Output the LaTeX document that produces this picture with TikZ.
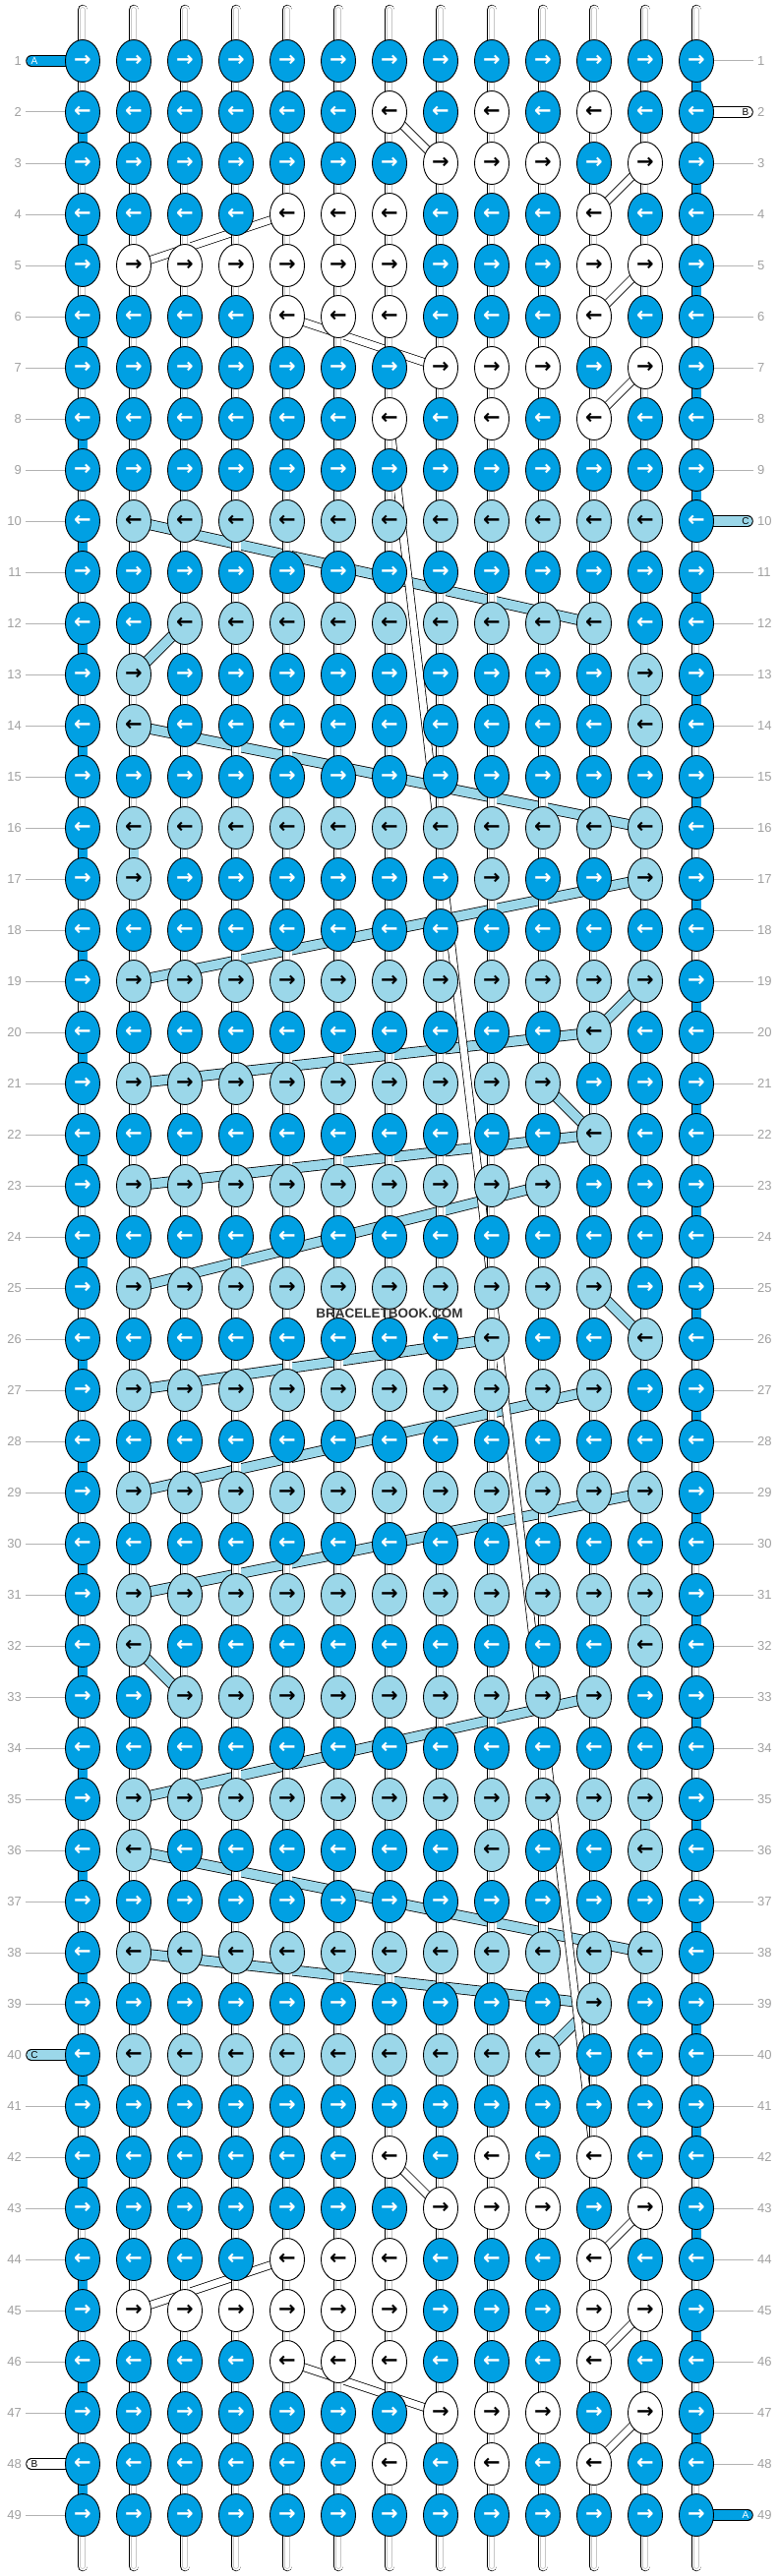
\documentclass[tikz,border=0pt]{standalone}
\usepackage{fontspec}
\setmainfont{Liberation Sans}
\newfontfamily\arrowfont{DejaVu Sans}
\usetikzlibrary{shapes.geometric}
\definecolor{bbblue}{RGB}{0,160,227}
\definecolor{bblight}{RGB}{155,215,233}
\definecolor{numgray}{RGB}{160,160,160}
\pgfdeclarelayer{bg}
\pgfsetlayers{bg,main}
\tikzset{
  knot/.style={ellipse,draw=black,line width=0.9pt,minimum width=35pt,minimum height=43pt,
    inner sep=0pt,font=\arrowfont\bfseries\fontsize{21}{21}\selectfont},
  pipe/.style={line width=10.5pt,draw=black,postaction={draw=white,line width=9pt},
    postaction={draw=black!22,line width=5.6pt},postaction={draw=white,line width=4pt}},
  wrap/.style={line width=10.5pt,draw=black,postaction={draw=#1,line width=9pt}},
  bar/.style={line width=11.5pt,draw=black,postaction={draw=bbblue,line width=9.8pt}},
  cstrand/.style={line width=11pt,draw=black,postaction={draw=bblight,line width=9.4pt}},
  bstrand/.style={line width=8.5pt,draw=black,postaction={draw=white,line width=7pt}},
  endpipe/.style={line width=11.5pt,draw=black,line cap=round,postaction={draw=#1,line width=9.8pt}},
  endlab/.style={inner sep=0pt,font=\fontsize{10}{10}\selectfont},
  rownum/.style={inner sep=0pt,text=numgray,font=\fontsize{13}{13}\selectfont},
  rowline/.style={draw=numgray!80,line width=1pt},
  wmark/.style={inner sep=0pt,text=black!80,font=\bfseries\fontsize{13.5}{13.5}\selectfont}
}
\begin{document}
\begin{tikzpicture}[x=1pt,y=-1pt]
\useasboundingbox (0,0) rectangle (792,2620);
% knot colours that are not blue
\foreach \r/\cs in {2/{7,9,11},3/{8,9,10,12},4/{5,6,7,11},5/{2,...,7,11,12},6/{5,6,7,11},
    7/{8,9,10,12},8/{7,9,11},42/{7,9,11},43/{8,9,10,12},44/{5,6,7,11},45/{2,...,7,11,12},
    46/{5,6,7,11},47/{8,9,10,12},48/{7,9,11}}{
  \foreach \c in \cs {\expandafter\xdef\csname kf-\r-\c\endcsname{white}}}
\foreach \r/\cs in {10/{2,...,12},12/{3,...,11},13/{2,12},14/{2,12},16/{2,...,12},17/{2,9,12},
    19/{2,...,12},20/{11},21/{2,...,10},22/{11},23/{2,...,10},25/{2,...,11},26/{9,12},
    27/{2,...,11},29/{2,...,12},31/{2,...,12},32/{2,12},33/{3,...,11},35/{2,...,12},
    36/{2,9,12},38/{2,...,12},39/{11},40/{2,...,10}}{
  \foreach \c in \cs {\expandafter\xdef\csname kf-\r-\c\endcsname{bblight}}}
% vertical links that are coloured
\foreach \r in {1,...,48}{%
  \ifodd\r \expandafter\xdef\csname vc-\r-13\endcsname{bbblue}%
  \else \expandafter\xdef\csname vc-\r-1\endcsname{bbblue}\fi}
\foreach \r/\c in {13/12,16/2,31/12,35/12}{%
  \expandafter\xdef\csname vc-\r-\c\endcsname{bblight}}

% knots
\foreach \r in {1,...,49}
  \foreach \c in {1,...,13}{
    \def\kf{bbblue}\def\kt{white}
    \ifcsname kf-\r-\c\endcsname
      \edef\kf{\csname kf-\r-\c\endcsname}\def\kt{black}
    \fi
    \ifodd\r \def\arr{→}\else \def\arr{←}\fi
    \node[knot,fill=\kf,text=\kt] (k-\r-\c) at ({84+52*(\c-1)},{62+52*(\r-1)}) {\arr};
  }

% row numbers
\foreach \r in {1,...,49}{
  \node[rownum,anchor=east] (ln-\r) at (22,{62+52*(\r-1)}) {\r};
  \node[rownum,anchor=west] (rn-\r) at (770,{62+52*(\r-1)}) {\r};
}

% loose ends with letters
\coordinate (eA1) at (32,62);
\coordinate (eB2) at (760,114);
\coordinate (eC10) at (760,530);
\coordinate (eC40) at (32,2090);
\coordinate (eB48) at (32,2506);
\coordinate (eA49) at (760,2558);
\node[endlab,text=white] (lA1) at (35,62) {A};
\node[endlab] (lB2) at (758,114) {B};
\node[endlab] (lC10) at (758,530) {C};
\node[endlab] (lC40) at (35,2090) {C};
\node[endlab] (lB48) at (35,2506) {B};
\node[endlab,text=white] (lA49) at (758,2558) {A};

\node[wmark] (wm) at (396,1336) {BRACELETBOOK.COM};

\begin{pgfonlayer}{bg}
\foreach \r in {1,...,49}{
  \draw[rowline] ([xshift=4pt]ln-\r.east) -- (k-\r-1.center);
  \draw[rowline] ([xshift=-4pt]rn-\r.west) -- (k-\r-13.center);
}
% carried strings
\foreach \a/\b in {10-2/12-11,12-3/13-2,14-2/16-12,17-12/19-2,19-12/20-11,20-11/21-2,
    21-10/22-11,22-11/23-2,23-10/25-2,25-11/26-12,26-9/27-2,27-11/29-2,29-12/31-2,
    32-2/33-3,33-11/35-2,36-2/38-12,38-2/39-11,39-11/40-10}
  \draw[cstrand] (k-\a.center) -- (k-\b.center);
\foreach \a/\b in {2-7/3-8,3-12/4-11,4-5/5-2,5-12/6-11,6-5/7-8,7-12/8-11,8-7/42-11,
    42-7/43-8,43-12/44-11,44-5/45-2,45-12/46-11,46-5/47-8,47-12/48-11}
  \draw[bstrand] (k-\a.center) -- (k-\b.center);
% vertical strings
\foreach \c in {1,...,13}{
  \coordinate (top-\c) at ({84+52*(\c-1)},10);
  \coordinate (bot-\c) at ({84+52*(\c-1)},2610);
  \draw[pipe,line cap=round] (top-\c) -- (k-1-\c.center);
  \draw[pipe,line cap=round] (bot-\c) -- (k-49-\c.center);
}
\foreach \r [evaluate=\r as \rn using int(\r+1)] in {1,...,48}
  \foreach \c in {1,...,13}{
    \ifcsname vc-\r-\c\endcsname
      \edef\vcol{\csname vc-\r-\c\endcsname}
      \draw[wrap=\vcol] (k-\r-\c.center) -- (k-\rn-\c.center);
    \else
      \draw[pipe] (k-\r-\c.center) -- (k-\rn-\c.center);
    \fi
  }
% rows
\foreach \r in {1,...,49}
  \foreach \c [evaluate=\c as \cn using int(\c+1)] in {1,...,12}
    \draw[bar] (k-\r-\c.center) -- (k-\r-\cn.center);
\draw[endpipe=bbblue] (eA1) -- (k-1-1.center);
\draw[endpipe=white] (eB2) -- (k-2-13.center);
\draw[endpipe=bblight] (eC10) -- (k-10-13.center);
\draw[endpipe=bblight] (eC40) -- (k-40-1.center);
\draw[endpipe=white] (eB48) -- (k-48-1.center);
\draw[endpipe=bbblue] (eA49) -- (k-49-13.center);
\end{pgfonlayer}
\end{tikzpicture}
\end{document}
